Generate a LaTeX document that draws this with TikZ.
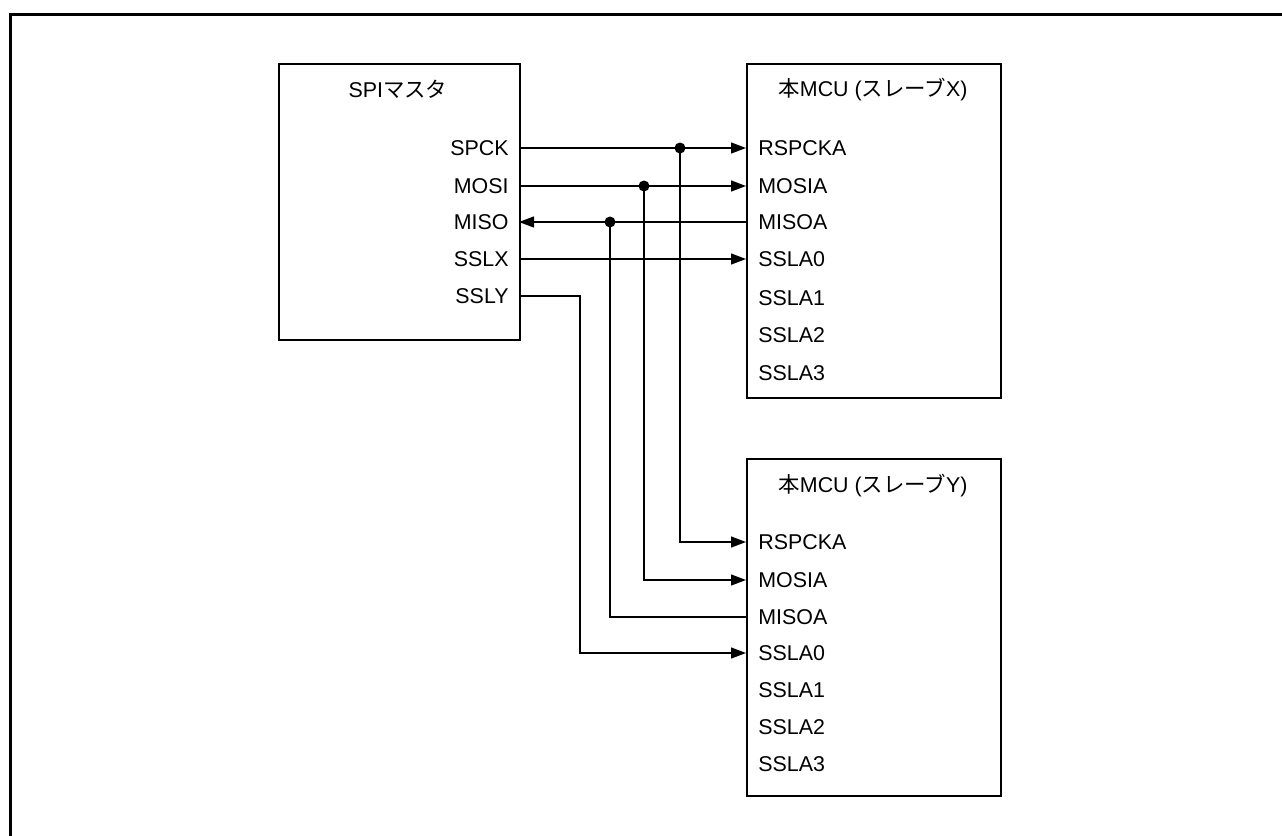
\documentclass[tikz,border=0pt]{standalone}
\usepackage{fontspec}
\setmainfont{Liberation Sans}
\newfontfamily\jp{Noto Sans CJK JP}
\usetikzlibrary{arrows.meta}
\begin{document}
\begin{tikzpicture}[x=0.5pt,y=-0.5pt,
  box/.style={draw,line width=1pt,rectangle,anchor=north west,inner sep=0pt},
  lbl/.style={inner sep=0pt,font=\fontsize{10.7pt}{12pt}\selectfont},
  wire/.style={line width=0.65pt},
  arr/.style={wire,-{Triangle[length=7.5pt,width=5.5pt]}},
  dotc/.style={circle,fill,inner sep=0pt,minimum size=5.5pt}]
\useasboundingbox (0,0) rectangle (1282,836);
\draw[line width=1.6pt] (10.5,836) -- (10.5,14.5) -- (1282,14.5);
% boxes
\node[box,minimum width=120.75pt,minimum height=138pt] (master) at (277.5,62.7) {};
\node[box,minimum width=127pt,minimum height=167pt] (slx) at (746,62.7) {};
\node[box,minimum width=127pt,minimum height=168.5pt] (sly) at (746,458) {};
% titles
\node[lbl,anchor=base] (tm) at (398,97) {SPI{\jp マスタ}};
\node[lbl,anchor=base] (tx) at (873,96) {{\jp 本}MCU ({\jp スレーブ}X)};
\node[lbl,anchor=base] (ty) at (873,492) {{\jp 本}MCU ({\jp スレーブ}Y)};
% master labels
\node[lbl,anchor=base east] (lspck) at (509,155) {SPCK};
\node[lbl,anchor=base east] (lmosi) at (509,193) {MOSI};
\node[lbl,anchor=base east] (lmiso) at (509,229) {MISO};
\node[lbl,anchor=base east] (lsslx) at (509,266) {SSLX};
\node[lbl,anchor=base east] (lssly) at (509,303) {SSLY};
% slave X labels
\node[lbl,anchor=base west] (xl1) at (758,155) {RSPCKA};
\node[lbl,anchor=base west] (xl2) at (758,193) {MOSIA};
\node[lbl,anchor=base west] (xl3) at (758,229) {MISOA};
\node[lbl,anchor=base west] (xl4) at (758,266) {SSLA0};
\node[lbl,anchor=base west] (xl5) at (758,305) {SSLA1};
\node[lbl,anchor=base west] (xl6) at (758,342) {SSLA2};
\node[lbl,anchor=base west] (xl7) at (758,380) {SSLA3};
% slave Y labels
\node[lbl,anchor=base west] (yl1) at (758,549) {RSPCKA};
\node[lbl,anchor=base west] (yl2) at (758,587) {MOSIA};
\node[lbl,anchor=base west] (yl3) at (758,624) {MISOA};
\node[lbl,anchor=base west] (yl4) at (758,660) {SSLA0};
\node[lbl,anchor=base west] (yl5) at (758,697) {SSLA1};
\node[lbl,anchor=base west] (yl6) at (758,734) {SSLA2};
\node[lbl,anchor=base west] (yl7) at (758,771) {SSLA3};
% pin coordinates
\coordinate (mspck) at (519,148);
\coordinate (mmosi) at (519,186);
\coordinate (mmiso) at (519,222);
\coordinate (msslx) at (519,259);
\coordinate (mssly) at (519,296);
\coordinate (xrspck) at (746,148);
\coordinate (xmosi) at (746,186);
\coordinate (xmiso) at (746,222);
\coordinate (xssl) at (746,259);
\coordinate (yrspck) at (746,542);
\coordinate (ymosi) at (746,580);
\coordinate (ymiso) at (746,617);
\coordinate (yssl) at (746,653);
\coordinate (bssly) at (580,296);
% junctions
\node[dotc] (dspck) at (680,148) {};
\node[dotc] (dmosi) at (644,186) {};
\node[dotc] (dmiso) at (610,222) {};
% connectors
\draw[arr] (mspck) -- (xrspck);
\draw[arr] (mmosi) -- (xmosi);
\draw[arr] (xmiso) -- (mmiso);
\draw[arr] (msslx) -- (xssl);
\draw[arr] (dspck.center) |- (yrspck);
\draw[arr] (dmosi.center) |- (ymosi);
\draw[wire] (ymiso) -| (dmiso.center);
\draw[arr] (mssly) -- (bssly) |- (yssl);
\end{tikzpicture}
\end{document}
